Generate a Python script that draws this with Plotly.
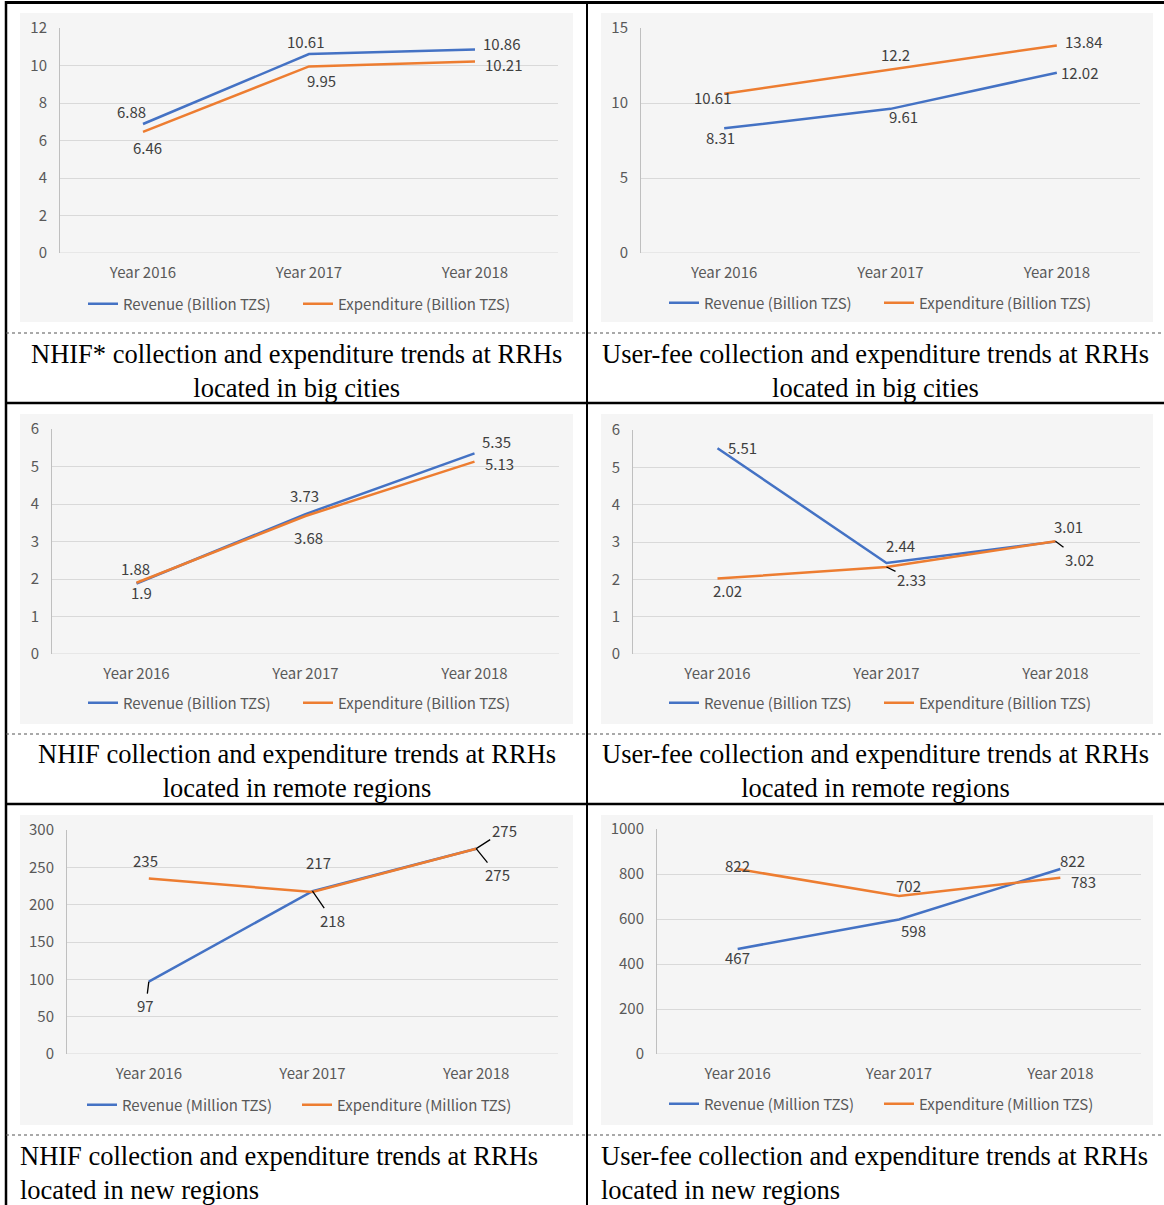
import plotly.graph_objects as go

W, H = 1164, 1205

years = ["Year 2016", "Year 2017", "Year 2018"]

# ---- data ----
nhif_big_rev = [6.88, 10.61, 10.86]
nhif_big_exp = [6.46, 9.95, 10.21]
fee_big_rev = [8.31, 9.61, 12.02]
fee_big_exp = [10.61, 12.2, 13.84]
nhif_remote_rev = [1.88, 3.73, 5.35]
nhif_remote_exp = [1.9, 3.68, 5.13]
fee_remote_rev = [5.51, 2.44, 3.01]
fee_remote_exp = [2.02, 2.33, 3.02]
nhif_new_rev = [97, 218, 275]
nhif_new_exp = [235, 217, 275]
fee_new_rev = [467, 598, 822]
fee_new_exp = [822, 702, 783]

captions = [
    "NHIF* collection and expenditure trends at RRHs<br>located in big cities",
    "User-fee collection and expenditure trends at RRHs<br>located in big cities",
    "NHIF collection and expenditure trends at RRHs<br>located in remote regions",
    "User-fee collection and expenditure trends at RRHs<br>located in remote regions",
    "NHIF collection and expenditure trends at RRHs<br>located in new regions",
    "User-fee collection and expenditure trends at RRHs<br>located in new regions",
]

BLUE = "#4472C4"
ORANGE = "#ED7D31"
FONT = "Noto Sans CJK JP"
FS = 15

# ---- layout per panel (pixel boxes) ----
panels = [
    dict(rev=nhif_big_rev, exp=nhif_big_exp, unit="Billion TZS", yr=[0, 12], dt=2,
         plot=(60, 558, 28, 253), bg=(20, 573, 13, 322), leg=304, legx=298,
         lrev=[(-12, -13, 0), (-4, -13, 0), (26, -6, 0)],
         lexp=[(4, 16, 0), (12, 14, 0), (28, 3, 0)]),
    dict(rev=fee_big_rev, exp=fee_big_exp, unit="Billion TZS", yr=[0, 15], dt=5,
         plot=(641, 1140, 28, 253), bg=(601, 1153, 13, 322), leg=303, legx=879,
         lrev=[(-4, 9, 0), (13, 8, 0), (23, 0, 0)],
         lexp=[(-12, 4, 0), (5, -16, 0), (27, -4, 0)]),
    dict(rev=nhif_remote_rev, exp=nhif_remote_exp, unit="Billion TZS", yr=[0, 6], dt=1,
         plot=(52, 559, 429, 654), bg=(20, 573, 414, 724), leg=703, legx=298,
         lrev=[(-1, -15, 0), (-1, -19, 0), (22, -12, 0)],
         lexp=[(5, 10, 0), (3, 21, 0), (25, 2, 0)]),
    dict(rev=fee_remote_rev, exp=fee_remote_exp, unit="Billion TZS", yr=[0, 6], dt=1,
         plot=(633, 1140, 430, 654), bg=(601, 1153, 414, 724), leg=703, legx=879,
         lrev=[(25, -1, 0), (14, -17, 0), (13, -15, 0)],
         lexp=[(10, 12, 0), (25, 12, 1), (24, 18, 1)]),
    dict(rev=nhif_new_rev, exp=nhif_new_exp, unit="Million TZS", yr=[0, 300], dt=50,
         plot=(67, 558, 830, 1054), bg=(20, 573, 815, 1125), leg=1105, legx=297,
         lrev=[(-3, 24, 1), (20, 29, 1), (21, 26, 1)],
         lexp=[(-3, -18, 0), (6, -29, 0), (28, -18, 1)]),
    dict(rev=fee_new_rev, exp=fee_new_exp, unit="Million TZS", yr=[0, 1000], dt=200,
         plot=(657, 1141, 829, 1054), bg=(601, 1153, 815, 1125), leg=1104, legx=879,
         lrev=[(0, 9, 0), (14, 11, 0), (12, -9, 0)],
         lexp=[(0, -4, 0), (9, -11, 0), (23, 4, 0)]),
]

def px(x):
    return x / W

def py(y):
    return 1 - y / H

fig = go.Figure()
shapes = []
annotations = []
layout = {}

for i, p in enumerate(panels):
    n = i + 1
    sfx = "" if n == 1 else str(n)
    xa, ya = "x" + sfx, "y" + sfx
    leg = "legend" + sfx
    x0, x1, yt, yb = p["plot"]
    layout["xaxis" + sfx] = dict(
        domain=[px(x0), px(x1)], anchor=ya, type="category",
        range=[-0.5, 2.5], showgrid=False, zeroline=False, showline=False,
        ticks="", tickfont=dict(family=FONT, size=FS, color="#595959"),
        ticklabelstandoff=9, fixedrange=True, automargin=False)
    layout["yaxis" + sfx] = dict(
        domain=[py(yb), py(yt)], anchor=xa, range=p["yr"], dtick=p["dt"],
        showgrid=True, gridcolor="#D9D9D9", gridwidth=1, zeroline=False,
        showline=True, linecolor="#BFBFBF", linewidth=1, ticks="",
        tickfont=dict(family=FONT, size=FS, color="#595959"),
        ticklabelstandoff=9, fixedrange=True, automargin=False)
    # background
    bx0, bx1, by0, by1 = p["bg"]
    shapes.append(dict(type="rect", xref="paper", yref="paper",
                       x0=px(bx0), x1=px(bx1), y0=py(by1), y1=py(by0),
                       fillcolor="#F5F5F5", line=dict(width=0), layer="below"))
    # axis baseline
    shapes.append(dict(type="line", xref=xa + " domain", yref=ya,
                       x0=0, x1=1, y0=0, y1=0,
                       line=dict(color="#D9D9D9", width=1), layer="below"))
    for key, name, col in (("rev", "Revenue", BLUE), ("exp", "Expenditure", ORANGE)):
        fig.add_trace(go.Scatter(
            x=years, y=p[key], mode="lines", name=f"{name} ({p['unit']})",
            line=dict(color=col, width=2.5), xaxis=xa, yaxis=ya,
            legend=leg, hoverinfo="x+y"))
    layout[leg] = dict(
        orientation="h", x=px(p["legx"]),
        xanchor="center", y=py(p["leg"]), yanchor="middle",
        bgcolor="rgba(0,0,0,0)", font=dict(family=FONT, size=FS, color="#595959"),
        itemwidth=30, tracegroupgap=0, entrywidth=170)
    for key in ("rev", "exp"):
        offs = p["l" + key]
        for j, v in enumerate(p[key]):
            dx, dy, leader = offs[j]
            txt = f"{v:g}"
            if leader:
                annotations.append(dict(
                    x=years[j], y=v, xref=xa, yref=ya, text=txt,
                    showarrow=True, arrowhead=0, arrowwidth=1.3,
                    arrowcolor="#000000", ax=dx, ay=dy, standoff=0,
                    font=dict(family=FONT, size=FS, color="#404040")))
            else:
                annotations.append(dict(
                    x=years[j], y=v, xref=xa, yref=ya, text=txt,
                    showarrow=False, xshift=dx, yshift=-dy,
                    font=dict(family=FONT, size=FS, color="#404040")))
    # caption
    cap_y1, cap_y2 = [(353, 388), (754, 788), (1155, 1190)][i // 2]
    left = i % 2 == 0
    cell_x0, cell_x1 = (6, 587) if left else (587, 1164)
    if i // 2 < 2:
        annotations.append(dict(
            x=px((cell_x0 + cell_x1) / 2), y=py((cap_y1 + cap_y2) / 2),
            xref="paper", yref="paper", text=captions[i], showarrow=False,
            xanchor="center", yanchor="middle", align="center",
            font=dict(family="Liberation Serif", size=26.5, color="#000000")))
    else:
        annotations.append(dict(
            x=px(cell_x0 + 12), y=py((cap_y1 + cap_y2) / 2),
            xref="paper", yref="paper", text=captions[i], showarrow=False,
            xanchor="left", yanchor="middle", align="left",
            font=dict(family="Liberation Serif", size=26.5, color="#000000")))

# ---- table borders ----
def hline(y, x0, x1, width, color="#000000", dash="solid"):
    shapes.append(dict(type="line", xref="paper", yref="paper",
                       x0=px(x0), x1=px(x1), y0=py(y), y1=py(y),
                       line=dict(color=color, width=width, dash=dash)))

def vline(x, y0, y1, width, color="#000000"):
    shapes.append(dict(type="line", xref="paper", yref="paper",
                       x0=px(x), x1=px(x), y0=py(y0), y1=py(y1),
                       line=dict(color=color, width=width)))

hline(2.5, 5, 1164, 3)
vline(6, 1, 1205, 2.5)
vline(587, 1, 1205, 2)
for y in (403, 804):
    hline(y, 5, 1164, 2.5)
for y in (333, 734, 1135):
    hline(y, 6, 1164, 1.2, color="#555555", dash="dot")

fig.update_layout(
    width=W, height=H, margin=dict(l=0, r=0, t=0, b=0, autoexpand=False),
    paper_bgcolor="white", plot_bgcolor="rgba(0,0,0,0)",
    shapes=shapes, annotations=annotations, showlegend=True,
    **layout)

fig.write_html("out.html", config={"displayModeBar": False},
               post_script="document.body.style.margin='0';document.body.style.overflow='hidden';")
